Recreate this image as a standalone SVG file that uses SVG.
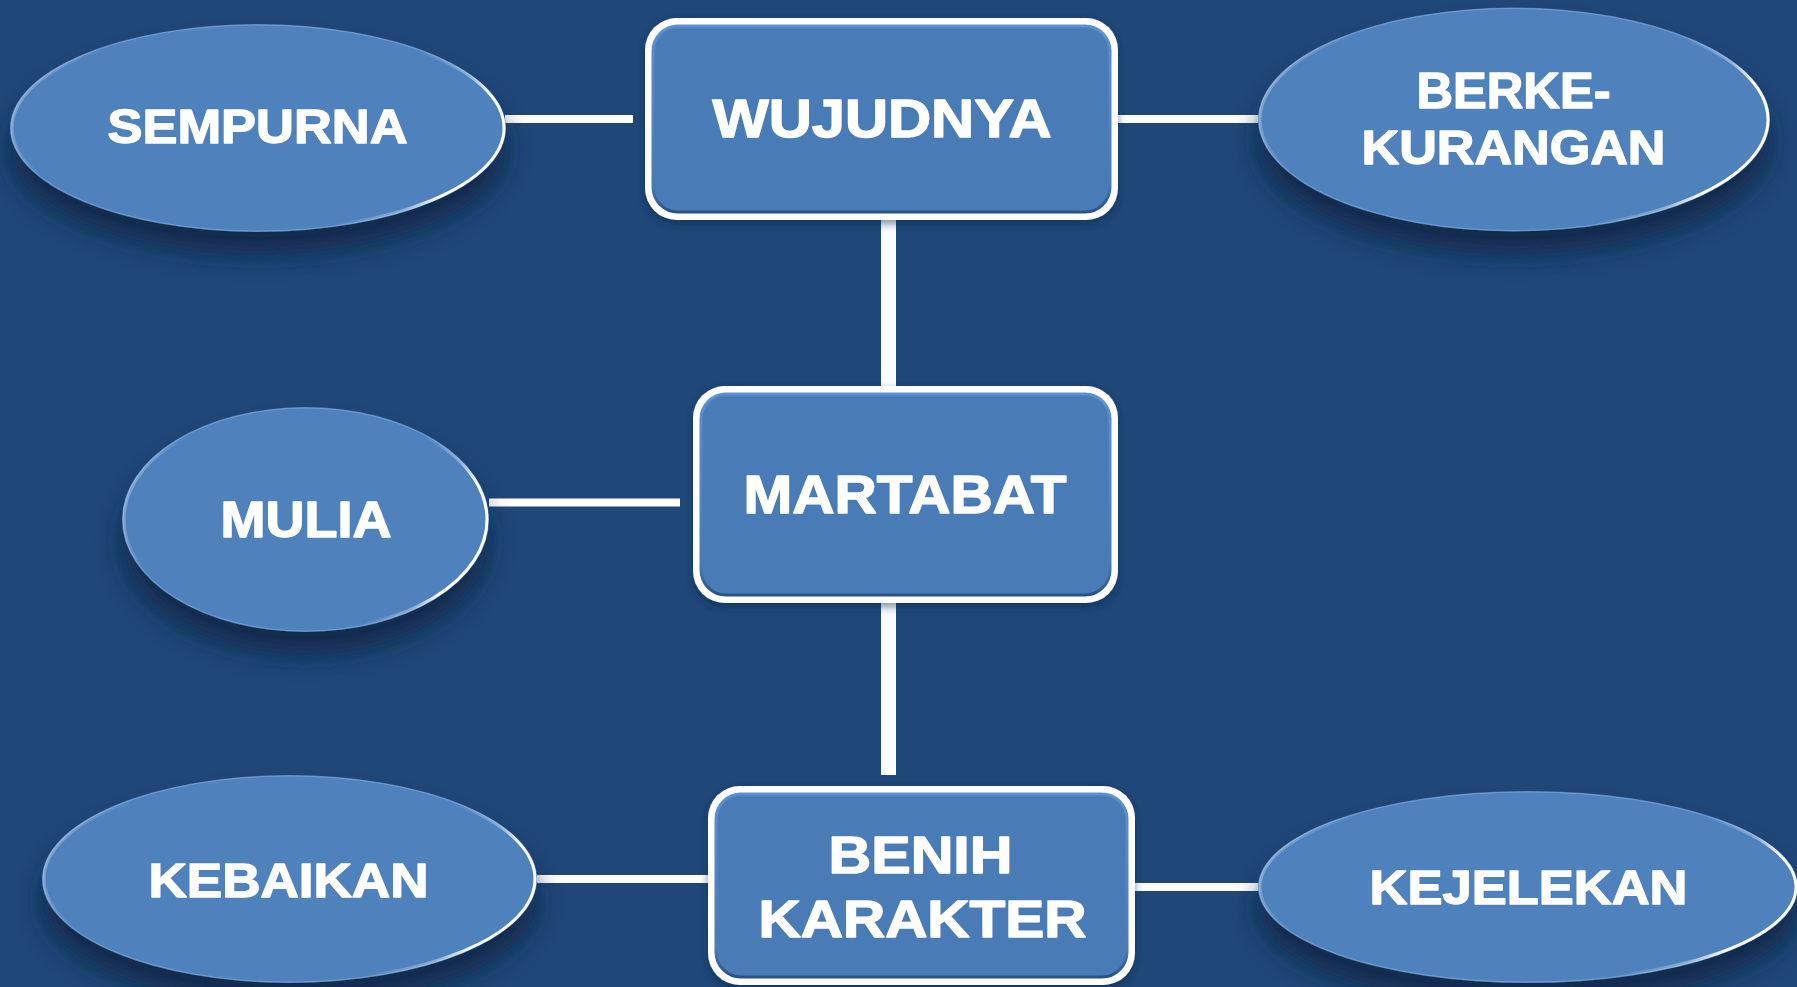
<svg xmlns="http://www.w3.org/2000/svg" width="1797" height="987" viewBox="0 0 1797 987">
<defs>
<style>
.lbl{font-family:"Liberation Sans",Arial,sans-serif;font-weight:bold;fill:#ffffff;stroke:#ffffff;stroke-width:1.4;stroke-linejoin:round;text-anchor:middle}
.ell{fill:#4f81bd;filter:url(#shadow)}
.gloss{fill:none;stroke:url(#glossGrad);stroke-width:3}
.rim{fill:none;stroke:#9dbde3;stroke-width:1;opacity:0.45}
.outer{fill:#ffffff}
.inner{fill:#4a7bb6;stroke:url(#bevel);stroke-width:3}
.conn{stroke:#ffffff;fill:none}
</style>
<filter id="shadow" x="-20%" y="-20%" width="140%" height="170%">
<feGaussianBlur in="SourceAlpha" stdDeviation="13"/>
<feOffset dx="0" dy="22" result="b"/>
<feFlood flood-color="#0e2443" flood-opacity="0.85"/>
<feComposite in2="b" operator="in" result="s"/>
<feMerge><feMergeNode in="s"/><feMergeNode in="SourceGraphic"/></feMerge>
</filter>
<filter id="bshadow" x="-10%" y="-10%" width="120%" height="130%">
<feGaussianBlur in="SourceAlpha" stdDeviation="4"/>
<feOffset dx="0" dy="4" result="b"/>
<feFlood flood-color="#0f2645" flood-opacity="0.5"/>
<feComposite in2="b" operator="in" result="s"/>
<feMerge><feMergeNode in="s"/><feMergeNode in="SourceGraphic"/></feMerge>
</filter>
<linearGradient id="glossGrad" x1="0" y1="0" x2="1" y2="0.2">
<stop offset="0" stop-color="#ffffff" stop-opacity="1"/>
<stop offset="0.08" stop-color="#ffffff" stop-opacity="0.3"/>
<stop offset="0.2" stop-color="#ffffff" stop-opacity="0"/>
<stop offset="0.82" stop-color="#ffffff" stop-opacity="0"/>
<stop offset="0.94" stop-color="#ffffff" stop-opacity="0.35"/>
<stop offset="1" stop-color="#ffffff" stop-opacity="1"/>
</linearGradient>
<linearGradient id="bevel" x1="0" y1="0" x2="0" y2="1">
<stop offset="0" stop-color="#5b90d3"/>
<stop offset="0.85" stop-color="#4a7bb6"/>
<stop offset="1" stop-color="#2a5185"/>
</linearGradient>
</defs>
<rect x="0" y="0" width="1797" height="987" fill="#1f4778"/>

<g id="connectors">
<line class="conn" x1="505" y1="119" x2="633" y2="119" stroke-width="8"/>
<line class="conn" x1="1118" y1="119" x2="1259" y2="119" stroke-width="8"/>
<line class="conn" x1="489" y1="502.5" x2="680" y2="502.5" stroke-width="8"/>
<line class="conn" x1="537" y1="879" x2="709" y2="879" stroke-width="8"/>
<line class="conn" x1="1134" y1="887" x2="1259" y2="887" stroke-width="8"/>
<line class="conn" x1="888.5" y1="218" x2="888.5" y2="388" stroke-width="15"/>
<line class="conn" x1="888.5" y1="601" x2="888.5" y2="775" stroke-width="15"/>
</g>

<g id="sempurna">
<ellipse class="ell" cx="258" cy="128" rx="248" ry="104"/>
<ellipse class="rim" cx="258" cy="128" rx="247" ry="103"/>
<ellipse class="gloss" cx="258" cy="128" rx="246" ry="102"/>
<text class="lbl" x="257.5" y="143" font-size="49" textLength="300" lengthAdjust="spacingAndGlyphs">SEMPURNA</text>
</g>

<g id="berkekurangan">
<ellipse class="ell" cx="1514" cy="119.5" rx="256" ry="112"/>
<ellipse class="rim" cx="1514" cy="119.5" rx="255" ry="111"/>
<ellipse class="gloss" cx="1514" cy="119.5" rx="254" ry="110"/>
<text class="lbl" x="1513.5" y="108" font-size="50" textLength="194" lengthAdjust="spacingAndGlyphs">BERKE-</text>
<text class="lbl" x="1513.5" y="164" font-size="48" textLength="304" lengthAdjust="spacingAndGlyphs">KURANGAN</text>
</g>

<g id="mulia">
<ellipse class="ell" cx="305.5" cy="519.5" rx="183.5" ry="112.5"/>
<ellipse class="rim" cx="305.5" cy="519.5" rx="182.5" ry="111.5"/>
<ellipse class="gloss" cx="305.5" cy="519.5" rx="181.5" ry="110.5"/>
<text class="lbl" x="306" y="537" font-size="50" textLength="171" lengthAdjust="spacingAndGlyphs">MULIA</text>
</g>

<g id="kebaikan">
<ellipse class="ell" cx="289.5" cy="879" rx="247.5" ry="104"/>
<ellipse class="rim" cx="289.5" cy="879" rx="246.5" ry="103"/>
<ellipse class="gloss" cx="289.5" cy="879" rx="245.5" ry="102"/>
<text class="lbl" x="288.5" y="897" font-size="49" textLength="280" lengthAdjust="spacingAndGlyphs">KEBAIKAN</text>
</g>

<g id="kejelekan">
<ellipse class="ell" cx="1528" cy="887" rx="270" ry="96"/>
<ellipse class="rim" cx="1528" cy="887" rx="269" ry="95"/>
<ellipse class="gloss" cx="1528" cy="887" rx="268" ry="94"/>
<text class="lbl" x="1528.5" y="904" font-size="49" textLength="318" lengthAdjust="spacingAndGlyphs">KEJELEKAN</text>
</g>

<g id="wujudnya" filter="url(#bshadow)">
<rect class="outer" x="645" y="18" width="473" height="202" rx="32"/>
<rect class="inner" x="653" y="26" width="457" height="186" rx="25"/>
<text class="lbl" x="882" y="137" font-size="54" textLength="339" lengthAdjust="spacingAndGlyphs">WUJUDNYA</text>
</g>

<g id="martabat" filter="url(#bshadow)">
<rect class="outer" x="693" y="386" width="425" height="217" rx="32"/>
<rect class="inner" x="701" y="394" width="409" height="201" rx="25"/>
<text class="lbl" x="905" y="513" font-size="53" textLength="323" lengthAdjust="spacingAndGlyphs">MARTABAT</text>
</g>

<g id="benih-karakter" filter="url(#bshadow)">
<rect class="outer" x="708" y="786" width="427" height="199" rx="32"/>
<rect class="inner" x="716" y="794" width="411" height="183" rx="25"/>
<text class="lbl" x="920.5" y="873" font-size="52" textLength="184" lengthAdjust="spacingAndGlyphs">BENIH</text>
<text class="lbl" x="922.5" y="937" font-size="51" textLength="328" lengthAdjust="spacingAndGlyphs">KARAKTER</text>
</g>
</svg>
